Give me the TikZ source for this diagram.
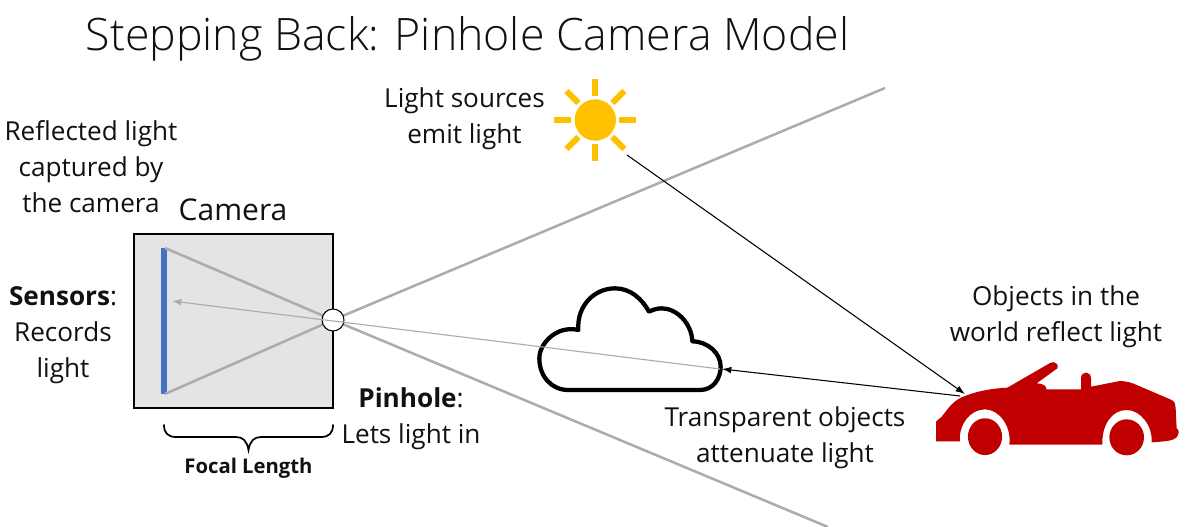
\documentclass[tikz,border=0pt]{standalone}
\usepackage{fontspec}
\usetikzlibrary{calc,arrows.meta}
\setmainfont{Open Sans}
\newfontfamily\lightf{Open Sans Light}
\definecolor{raygray}{HTML}{AEABAB}
\definecolor{camfill}{HTML}{E4E4E4}
\definecolor{sensor}{HTML}{4472C4}
\definecolor{sunc}{HTML}{FFC000}
\definecolor{carc}{HTML}{C00000}
\definecolor{ink}{HTML}{111111}
\tikzset{
  lbl/.style={align=center,font=\fontsize{19.6}{27}\selectfont,text=ink,inner sep=0pt},
  thick ray/.style={draw=raygray,line width=1.9pt},
  thin ray/.style={draw=raygray,line width=0.85pt},
  blackline/.style={draw=black,line width=0.8pt},
  sunray/.style={draw=sunc,line width=4.5pt},
  tip/.style={-{Latex[length=7pt,width=5pt]}}
}
\begin{document}
\begin{tikzpicture}[x=0.75pt,y=-0.75pt]
\useasboundingbox (0,0) rectangle (1193,527);
\node[inner sep=0pt,font=\lightf\fontsize{33.5}{40}\selectfont,text=ink] (title) at (467.5,38.5) {Stepping Back: Pinhole Camera Model};
% camera
\node[draw=black,fill=camfill,line width=1.9pt,minimum width=149pt,minimum height=130.5pt,inner sep=0pt] (camera) at (233.5,321) {};
\fill[sensor] (161,248) rectangle (167,394);
\coordinate (sensorTop) at (165,248);
\coordinate (sensorBot) at (165,394);
\coordinate (farTop) at (885,88);
\coordinate (farBot) at (828,527);
\coordinate (ph) at (333,320);
\draw[thick ray] (sensorTop) -- (ph);
\draw[thick ray] (sensorBot) -- (ph);
\draw[thick ray] (ph) -- (farTop);
\draw[thick ray] (ph) -- (farBot);
\node[circle,draw=black,fill=white,line width=0.8pt,minimum size=16.5pt,inner sep=0pt] (pinhole) at (ph) {};
% cloud
\begin{scope}[shift={(520,270)},x=0.25pt,y=-0.25pt]
\draw[line width=3.2pt,fill=white,line join=round] (145,360) -- (540,360)
 .. controls (580,360) and (602,325) .. (602,290)
 .. controls (602,250) and (565,215) .. (517,214)
 .. controls (515,160) and (470,115) .. (425,115)
 .. controls (410,115) and (398,120) .. (387,125)
 .. controls (365,85) and (330,55) .. (285,55)
 .. controls (225,55) and (170,105) .. (175,180)
 .. controls (110,165) and (58,220) .. (58,265)
 .. controls (58,320) and (95,360) .. (145,360) -- cycle;
\end{scope}
% thin rays
\coordinate (sensorHit) at (172,301);
\coordinate (cloudEdge) at (720,369);
\draw[thin ray,tip] (cloudEdge) -- (sensorHit);
% sun
\coordinate (sunc) at (595.3,120);
\fill[sunc] (sunc) circle (15.5pt);
\foreach \a in {0,45,...,315}{
  \draw[sunray] ($(sunc)+(\a:24)$) -- ($(sunc)+(\a:41)$);
}
% car
\begin{scope}[shift={(920,350)},x=0.25pt,y=-0.25pt]
\fill[carc] (48,274) -- (48,215) -- (65,200) .. controls (85,175) and (100,150) .. (135,138)
 .. controls (175,122) and (220,115) .. (262,113)
 -- (392,38) .. controls (405,32) and (418,45) .. (412,55)
 -- (350,100) .. controls (370,100) and (378,108) .. (380,118)
 -- (483,118) -- (483,85) .. controls (483,62) and (513,62) .. (513,85)
 -- (513,110) -- (600,93) .. controls (620,93) and (640,100) .. (650,105)
 -- (755,150) .. controls (765,155) and (767,165) .. (767,175)
 -- (770,235) .. controls (778,240) and (778,250) .. (770,262)
 .. controls (760,272) and (740,274) .. (695,277)
 .. controls (698,225) and (660,180) .. (620,180)
 .. controls (575,180) and (545,225) .. (547,284)
 -- (268,284)
 .. controls (275,225) and (235,178) .. (195,178)
 .. controls (150,178) and (115,225) .. (120,274) -- cycle;
\fill[carc] (195,260) ellipse [x radius=12.8pt,y radius=13.8pt];
\fill[carc] (620,262) ellipse [x radius=13pt,y radius=13.5pt];
\end{scope}
% black arrows
\coordinate (sunEnd) at (627,155);
\coordinate (carTip) at (965,394);
\coordinate (carLine) at (960,396);
\coordinate (cloudTip) at (722,369);
\draw[blackline,tip] (sunEnd) -- (carTip);
\draw[blackline,tip] (carLine) -- (cloudTip);
% brace
\draw[line width=1.3pt,line cap=round] (164,425) .. controls (164,433) and (168,437) .. (176,437) -- (236,437)
 .. controls (243,437) and (247,441) .. (248.5,450) .. controls (250,441) and (254,437) .. (261,437)
 -- (321,437) .. controls (329,437) and (333,433) .. (333,425);
% labels
\node[lbl] (refl) at (91,167) {Reflected light\\captured by\\the camera};
\node[lbl,font=\fontsize{22.5}{27}\selectfont] (camlab) at (233,210) {Camera};
\node[lbl] (sens) at (63,335) {\textbf{Sensors}:\\Records\\light};
\node[lbl] (pinlab) at (411,419) {\textbf{Pinhole}:\\Lets light in};
\node[lbl] (src) at (464.5,118.5) {Light sources\\emit light};
\node[lbl] (trans) at (785,437.5) {Transparent objects\\attenuate light};
\node[lbl] (obj) at (1056,317) {Objects in the\\world reflect light};
\node[inner sep=0pt,text=ink,font=\fontsize{15.2}{18}\selectfont\bfseries] (focal) at (248.5,468) {Focal Length};
\end{tikzpicture}
\end{document}
